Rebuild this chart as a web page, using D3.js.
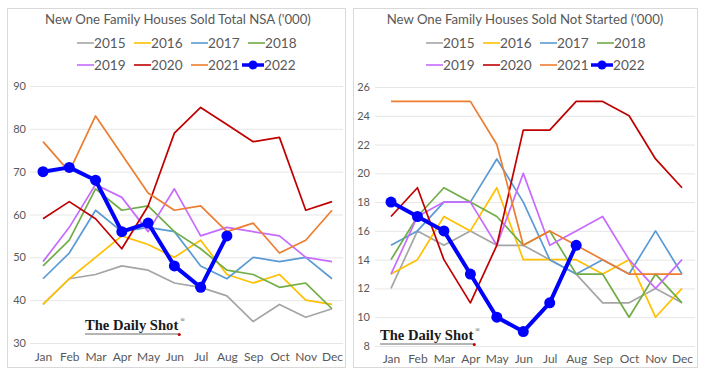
<!DOCTYPE html>
<html><head><meta charset="utf-8">
<script src="https://cdn.jsdelivr.net/npm/d3@7"></script>
<style>
body{margin:0;background:#fff;}
svg{display:block;}
</style></head>
<body>
<svg id="c" width="701" height="377"></svg>
<script>
const months = ["Jan","Feb","Mar","Apr","May","Jun","Jul","Aug","Sep","Oct","Nov","Dec"];
const years = ["2015","2016","2017","2018","2019","2020","2021","2022"];
const colors = ["#a5a5a5","#ffc000","#5b9bd5","#70ad47","#c76bff","#c00000","#ed7d31","#0000ff"];

// Total NSA ('000)
const total2015 = [39,45,46,48,47,44,43,41,35,39,36,38];
const total2016 = [39,45,50,55,53,50,54,46,44,46,40,39];
const total2017 = [45,51,61,56,57,56,48,45,50,49,50,45];
const total2018 = [48,54,66,61,62,56,52,47,46,43,44,38];
const total2019 = [49,57,67,64,56,66,55,57,56,55,50,49];
const total2020 = [59,63,59,52,62,79,85,81,77,78,61,63];
const total2021 = [77,70,83,74,65,61,62,56,58,51,54,61];
const total2022 = [70,71,68,56,58,48,43,55];
const totalTicks = [30,40,50,60,70,80,90];

// Not Started ('000)
const ns2015 = [12,16,15,16,15,15,14,13,11,11,12,11];
const ns2016 = [13,14,17,16,19,14,14,14,13,14,10,12];
const ns2017 = [15,16,18,18,21,18,14,13,14,13,16,13];
const ns2018 = [14,17,19,18,17,15,16,13,13,10,13,11];
const ns2019 = [13,17,18,18,15,20,15,16,17,14,12,14];
const ns2020 = [17,19,14,11,15,23,23,25,25,24,21,19];
const ns2021 = [25,25,25,25,22,15,16,15,14,13,13,13];
const ns2022 = [18,17,16,13,10,9,11,15];
const nsTicks = [8,10,12,14,16,18,20,22,24,26];

const svg = d3.select("#c");
const FONT = "Lato, 'Open Sans', sans-serif";

function panel(cfg){
  const g = svg.append("g");
  g.append("rect").attr("x",cfg.bx+0.5).attr("y",8.5).attr("width",cfg.bw).attr("height",359)
    .attr("fill","#fff").attr("stroke","#d9d9d9").attr("stroke-width",1);
  g.append("text").attr("x",cfg.cx).attr("y",24).attr("text-anchor","middle")
    .attr("font-family",FONT).attr("font-size",13.2).attr("fill","#595959")
    .text(cfg.title);
  const leg = g.append("g").attr("font-family",FONT).attr("font-size",13.6).attr("fill","#595959");
  years.forEach((yr,i)=>{
    const row = Math.floor(i/4), col = i%4;
    const lx = cfg.legX + col*57 - (i===7?6:0);
    const ly = 43 + row*22;
    const isMain = i===7;
    const lw = isMain ? 22 : 17;
    leg.append("line").attr("x1",lx).attr("x2",lx+lw).attr("y1",ly).attr("y2",ly)
      .attr("stroke",colors[i]).attr("stroke-width",isMain?3.5:1.6);
    if(isMain) leg.append("circle").attr("cx",lx+lw/2).attr("cy",ly).attr("r",4.5).attr("fill",colors[i]);
    leg.append("text").attr("x",lx+lw).attr("y",ly+5).text(yr);
  });

  const x = d3.scalePoint().domain(months).range(cfg.xr);
  const y = d3.scaleLinear().domain(cfg.yd).range(cfg.yr);

  const yAxis = d3.axisLeft(y).tickValues(cfg.ticks).tickSize(-(cfg.gx2-cfg.gx1)).tickPadding(cfg.pad);
  const ya = g.append("g").attr("transform",`translate(${cfg.gx1},0)`).call(yAxis);
  ya.select(".domain").remove();
  ya.selectAll(".tick line").attr("stroke","#e6e6e6").attr("stroke-width",1);
  ya.selectAll(".tick text").attr("fill","#595959").attr("font-size",11).attr("font-family",FONT);

  const xAxis = d3.axisBottom(x).tickSize(0).tickPadding(0);
  const xa = g.append("g").attr("transform",`translate(0,${cfg.xlY})`).call(xAxis);
  xa.select(".domain").remove();
  xa.selectAll(".tick text").attr("fill","#595959").attr("font-size",12).attr("font-family",FONT);

  // logo
  const lg = g.append("g");
  const lt = lg.append("text").attr("x",cfg.logoX).attr("y",cfg.logoY)
    .attr("font-family","'Liberation Serif','DejaVu Serif',serif").attr("font-weight","bold")
    .attr("font-size",14.6).attr("fill","#1a1a1a")
    .text("The Daily Shot");
  const endX = cfg.logoX + lt.node().getComputedTextLength();
  lg.append("text").attr("x",endX+2).attr("y",cfg.logoY-8).attr("font-size",6)
    .attr("font-family","serif").attr("fill","#1a1a1a").text("®");
  lg.append("line").attr("x1",cfg.logoX).attr("x2",endX).attr("y1",cfg.logoY+4).attr("y2",cfg.logoY+4)
    .attr("stroke","#444").attr("stroke-width",0.8);
  lg.append("circle").attr("cx",endX+1).attr("cy",cfg.logoY+4.5).attr("r",1.5).attr("fill","#c00000");

  const line = d3.line().x((d,i)=>x(months[i])).y(d=>y(d));
  cfg.series.forEach((s,i)=>{
    const main = i===7;
    g.append("path").datum(s).attr("d",line).attr("fill","none")
      .attr("stroke",colors[i]).attr("stroke-width",main?4:1.7).attr("stroke-linejoin","round");
    if(main){
      g.selectAll(null).data(s).enter().append("circle")
        .attr("cx",(d,j)=>x(months[j])).attr("cy",d=>y(d)).attr("r",5.5).attr("fill",colors[i]);
    }
  });
}

panel({bx:7,bw:338,cx:178,title:"New One Family Houses Sold Total NSA ('000)",legX:77,
  xr:[43,332],yd:[30,90],yr:[343,86],ticks:totalTicks,gx1:30,gx2:343,pad:4,xlY:352,
  logoX:85,logoY:330,
  series:[total2015,total2016,total2017,total2018,total2019,total2020,total2021,total2022]});

panel({bx:353,bw:344,cx:525,title:"New One Family Houses Sold Not Started ('000)",legX:426,
  xr:[391,682],yd:[8,26],yr:[346,87],ticks:nsTicks,gx1:375,gx2:695,pad:5,xlY:354,
  logoX:380,logoY:340,
  series:[ns2015,ns2016,ns2017,ns2018,ns2019,ns2020,ns2021,ns2022]});
</script>
</body></html>
